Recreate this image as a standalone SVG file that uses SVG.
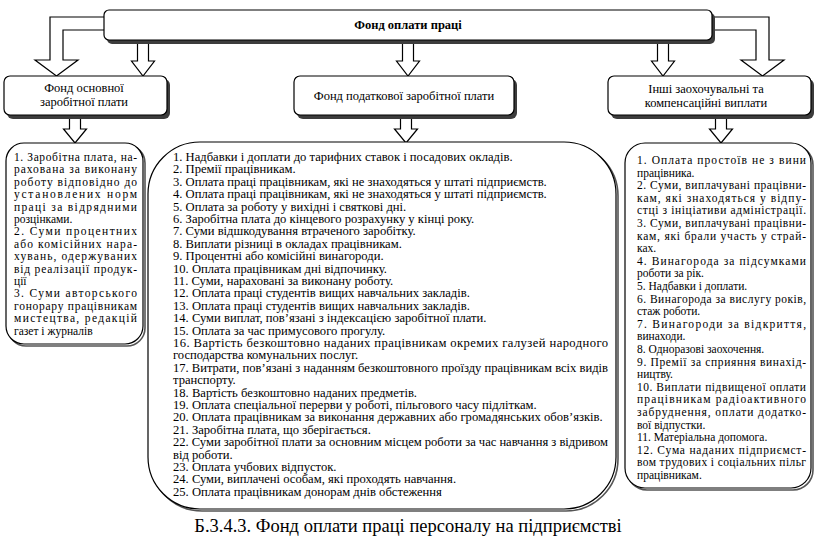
<svg xmlns="http://www.w3.org/2000/svg" width="816" height="537" viewBox="0 0 816 537" font-family="Liberation Serif, DejaVu Serif, serif">
<style>
.bg{fill:#fff}
.box{fill:#fff;stroke:#000;stroke-width:1.2}
.sh{fill:#3c3c3c}
.sh2{fill:none;stroke:#555;stroke-width:1.6}
.arr{fill:#fff;stroke:#000;stroke-width:1.2;stroke-linejoin:miter}
.h{font-size:12.5px;font-weight:bold;text-anchor:middle}
.l{font-size:12.5px;text-anchor:middle}
.m{font-size:12.6px}
.s{font-size:11.5px}
.cap{font-size:18.5px;text-anchor:middle}
</style>
<rect class="bg" x="0" y="0" width="816" height="537"/>
<g id="connectors">
<polygon class="arr" points="106,17 50,17 50,60 35,60 56.5,76 78,60 63,60 63,30 106,30"/>
<polygon class="arr" points="710,17 769,17 769,60 784,60 762.5,76 741,60 756,60 756,30 710,30"/>
<polygon class="arr" points="137.5,42 137.5,61 131.5,61 143,76 154.5,61 148.5,61 148.5,42"/>
<polygon class="arr" points="402.5,42 402.5,61 396.5,61 408,76 419.5,61 413.5,61 413.5,42"/>
<polygon class="arr" points="657.5,42 657.5,61 651.5,61 663,76 674.5,61 668.5,61 668.5,42"/>
<polygon class="arr" points="69.5,117 69.5,129 63.5,129 75,143 86.5,129 80.5,129 80.5,117"/>
<polygon class="arr" points="400.5,117 400.5,129 394.5,129 406,143 417.5,129 411.5,129 411.5,117"/>
<polygon class="arr" points="715.5,117 715.5,129 709.5,129 721,143 732.5,129 726.5,129 726.5,117"/>
</g>
<g id="n-fond">
<rect class="sh" x="107" y="13" width="608" height="31" rx="5"/>
<rect class="box" x="104" y="10" width="608" height="30" rx="5"/>
<text class="h" x="408" y="29">Фонд оплати праці</text>
</g>
<g id="n-osn">
<rect class="sh" x="7" y="79" width="163" height="40" rx="6"/>
<rect class="box" x="4" y="76" width="163" height="39" rx="6"/>
<text class="l" x="84" y="92">Фонд основної</text>
<text class="l" x="84" y="106">заробітної плати</text>
</g>
<g id="n-pod">
<rect class="sh" x="297" y="79" width="220" height="40" rx="6"/>
<rect class="box" x="294" y="76" width="220" height="39" rx="6"/>
<text class="l" x="404" y="100">Фонд податкової заробітної плати</text>
</g>
<g id="n-inshi">
<rect class="sh" x="611" y="79" width="203" height="40" rx="6"/>
<rect class="box" x="608" y="76" width="203" height="39" rx="6"/>
<text class="l" x="706" y="93">Інші заохочувальні та</text>
<text class="l" x="706" y="107">компенсаційні виплати</text>
</g>
<g id="n-list-osn">
<rect class="sh2" x="8" y="145" width="137" height="201" rx="18"/>
<rect class="box" x="6" y="143" width="137" height="201" rx="18"/>
<g class="s">
<text x="14" y="161" textLength="123" lengthAdjust="spacing">1. Заробітна плата, на-</text>
<text x="14" y="173.4" textLength="123" lengthAdjust="spacing">рахована за виконану</text>
<text x="14" y="185.8" textLength="123" lengthAdjust="spacing">роботу відповідно до</text>
<text x="14" y="198.2" textLength="123" lengthAdjust="spacing">установлених норм</text>
<text x="14" y="210.6" textLength="123" lengthAdjust="spacing">праці за відрядними</text>
<text x="14" y="223">розцінками.</text>
<text x="14" y="235.4" textLength="123" lengthAdjust="spacing">2. Суми процентних</text>
<text x="14" y="247.8" textLength="123" lengthAdjust="spacing">або комісійних нара-</text>
<text x="14" y="260.2" textLength="123" lengthAdjust="spacing">хувань, одержуваних</text>
<text x="14" y="272.6" textLength="123" lengthAdjust="spacing">від реалізації продук-</text>
<text x="14" y="285">ції</text>
<text x="14" y="297.4" textLength="123" lengthAdjust="spacing">3. Суми авторського</text>
<text x="14" y="309.8" textLength="123" lengthAdjust="spacing">гонорару працівникам</text>
<text x="14" y="322.2" textLength="123" lengthAdjust="spacing">мистецтва, редакцій</text>
<text x="14" y="334.6">газет і журналів</text>
</g>
</g>
<g id="n-list-pod">
<rect class="sh2" x="150" y="144" width="468" height="367" rx="52"/>
<rect class="box" x="148" y="142" width="468" height="367" rx="52"/>
<g class="m">
<text x="173" y="161">1. Надбавки і доплати до тарифних ставок і посадових окладів.</text>
<text x="173" y="173.4">2. Премії працівникам.</text>
<text x="173" y="185.8">3. Оплата праці працівникам, які не знаходяться у штаті підприємств.</text>
<text x="173" y="198.2">4. Оплата праці працівникам, які не знаходяться у штаті підприємств.</text>
<text x="173" y="210.6">5. Оплата за роботу у вихідні і святкові дні.</text>
<text x="173" y="223">6. Заробітна плата до кінцевого розрахунку у кінці року.</text>
<text x="173" y="235.4">7. Суми відшкодування втраченого заробітку.</text>
<text x="173" y="247.8">8. Виплати різниці в окладах працівникам.</text>
<text x="173" y="260.2">9. Процентні або комісійні винагороди.</text>
<text x="173" y="272.6">10. Оплата працівникам дні відпочинку.</text>
<text x="173" y="285">11. Суми, нараховані за виконану роботу.</text>
<text x="173" y="297.4">12. Оплата праці студентів вищих навчальних закладів.</text>
<text x="173" y="309.8">13. Оплата праці студентів вищих навчальних закладів.</text>
<text x="173" y="322.2">14. Суми виплат, пов’язані з індексацією заробітної плати.</text>
<text x="173" y="334.6">15. Оплата за час примусового прогулу.</text>
<text x="173" y="347" textLength="435" lengthAdjust="spacing">16. Вартість безкоштовно наданих працівникам окремих галузей народного</text>
<text x="173" y="359.4">господарства комунальних послуг.</text>
<text x="173" y="371.8" textLength="435" lengthAdjust="spacing">17. Витрати, пов’язані з наданням безкоштовного проїзду працівникам всіх видів</text>
<text x="173" y="384.2">транспорту.</text>
<text x="173" y="396.6">18. Вартість безкоштовно наданих предметів.</text>
<text x="173" y="409">19. Оплата спеціальної перерви у роботі, пільгового часу підліткам.</text>
<text x="173" y="421.4">20. Оплата працівникам за виконання державних або громадянських обов’язків.</text>
<text x="173" y="433.8">21. Заробітна плата, що зберігається.</text>
<text x="173" y="446.2" textLength="435" lengthAdjust="spacing">22. Суми заробітної плати за основним місцем роботи за час навчання з відривом</text>
<text x="173" y="458.6">від роботи.</text>
<text x="173" y="471">23. Оплата учбових відпусток.</text>
<text x="173" y="483.4">24. Суми, виплачені особам, які проходять навчання.</text>
<text x="173" y="495.8">25. Оплата працівникам донорам днів обстеження</text>
</g>
</g>
<g id="n-list-inshi">
<rect class="sh2" x="627" y="145" width="186" height="345" rx="20"/>
<rect class="box" x="625" y="143" width="186" height="345" rx="20"/>
<g class="s">
<text x="637" y="164" textLength="169" lengthAdjust="spacing">1. Оплата простоїв не з вини</text>
<text x="637" y="176.6">працівника.</text>
<text x="637" y="189.2" textLength="169" lengthAdjust="spacing">2. Суми, виплачувані працівни-</text>
<text x="637" y="201.8" textLength="169" lengthAdjust="spacing">кам, які знаходяться у відпу-</text>
<text x="637" y="214.4" textLength="169" lengthAdjust="spacing">стці з ініціативи адміністрації.</text>
<text x="637" y="227" textLength="169" lengthAdjust="spacing">3. Суми, виплачувані працівни-</text>
<text x="637" y="239.6" textLength="169" lengthAdjust="spacing">кам, які брали участь у страй-</text>
<text x="637" y="252.2">ках.</text>
<text x="637" y="264.8" textLength="169" lengthAdjust="spacing">4. Винагорода за підсумками</text>
<text x="637" y="277.4">роботи за рік.</text>
<text x="637" y="290">5. Надбавки і доплати.</text>
<text x="637" y="302.6" textLength="169" lengthAdjust="spacing">6. Винагорода за вислугу років,</text>
<text x="637" y="315.2">стаж роботи.</text>
<text x="637" y="327.8" textLength="169" lengthAdjust="spacing">7. Винагороди за відкриття,</text>
<text x="637" y="340.4">винаходи.</text>
<text x="637" y="353">8. Одноразові заохочення.</text>
<text x="637" y="365.6" textLength="169" lengthAdjust="spacing">9. Премії за сприяння винахід-</text>
<text x="637" y="378.2">ництву.</text>
<text x="637" y="390.8" textLength="169" lengthAdjust="spacing">10. Виплати підвищеної оплати</text>
<text x="637" y="403.4" textLength="169" lengthAdjust="spacing">працівникам радіоактивного</text>
<text x="637" y="416" textLength="169" lengthAdjust="spacing">забруднення, оплати додатко-</text>
<text x="637" y="428.6">вої відпустки.</text>
<text x="637" y="441.2">11. Матеріальна допомога.</text>
<text x="637" y="453.8" textLength="169" lengthAdjust="spacing">12. Сума наданих підприємст-</text>
<text x="637" y="466.4" textLength="169" lengthAdjust="spacing">вом трудових і соціальних пільг</text>
<text x="637" y="479">працівникам.</text>
</g>
</g>
<text class="cap" x="408" y="532">Б.3.4.3. Фонд оплати праці персоналу на підприємстві</text>
</svg>
